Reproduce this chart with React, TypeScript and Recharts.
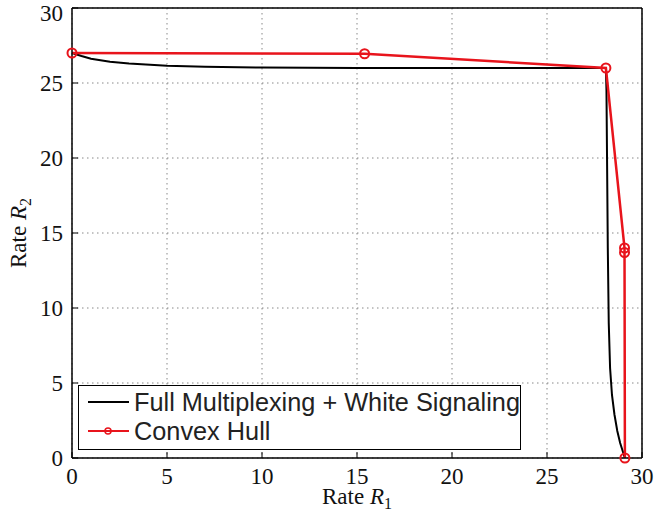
import { CartesianGrid, Line, LineChart, XAxis, YAxis } from "recharts"

const fullR1 = [0, 0.5, 1, 2, 3, 5, 7, 10, 15, 20, 25, 28.1, 28.13, 28.16, 28.2, 28.25, 28.32, 28.42, 28.55, 28.7, 28.85, 29.0, 29.1]
const fullR2 = [27, 26.8, 26.62, 26.42, 26.3, 26.15, 26.08, 26.03, 26.0, 26.0, 26.0, 26.0, 24.5, 20, 14, 9, 6, 4.2, 2.9, 1.8, 1.0, 0.4, 0]

const hullR1 = [0, 15.4, 28.1, 29.08, 29.08, 29.1]
const hullR2 = [27, 26.95, 26, 14.0, 13.7, 0]

const ticks = [0, 5, 10, 15, 20, 25, 30]

const fullData = fullR1.map((x, i) => ({ x, y: fullR2[i] }))
const hullData = hullR1.map((x, i) => ({ x, y: hullR2[i] }))

const serif = "'Liberation Serif', 'DejaVu Serif', serif"
const sans = "'Liberation Sans', Arial, sans-serif"

function LegendBox() {
  return (
    <div
      style={{
        position: "absolute",
        left: 78,
        top: 385,
        border: "1px solid #000",
        background: "#fff",
        width: 443,
        height: 65,
        fontFamily: sans,
        fontSize: 25.3,
        lineHeight: "29px",
        color: "#222",
        boxSizing: "border-box",
        paddingLeft: 8,
        paddingTop: 2,
        whiteSpace: "nowrap",
        overflow: "hidden",
      }}
    >
      <div>
        <svg width={47} height={20} style={{ verticalAlign: "-1px" }}>
          <line x1={1} x2={42} y1={10} y2={10} stroke="#000" strokeWidth={2} />
        </svg>
        Full Multiplexing + White Signaling
      </div>
      <div>
        <svg width={47} height={20} style={{ verticalAlign: "-1px" }}>
          <line x1={1} x2={42} y1={10} y2={10} stroke="#e8141c" strokeWidth={2} />
          <circle cx={21} cy={10} r={3} fill="none" stroke="#e8141c" strokeWidth={1.5} />
        </svg>
        Convex Hull
      </div>
    </div>
  )
}

function AxisLabels() {
  return (
    <svg width={655} height={516} style={{ position: "absolute", left: 0, top: 0, pointerEvents: "none" }}>
      <text x={357} y={504} textAnchor="middle" fontFamily={serif} fontSize={23} fill="#111">
        Rate <tspan fontStyle="italic">R</tspan>
        <tspan fontSize={16} dy={5}>1</tspan>
      </text>
      <text
        x={26}
        y={233}
        textAnchor="middle"
        transform="rotate(-90 26 233)"
        fontFamily={serif}
        fontSize={23}
        fill="#111"
      >
        Rate <tspan fontStyle="italic">R</tspan>
        <tspan fontSize={16} dy={5}>2</tspan>
      </text>
    </svg>
  )
}

export default function App() {
  return (
    <div style={{ position: "relative", width: 655, height: 516 }}>
      <style>{`body{margin:0}`}</style>
      <LineChart width={655} height={516} margin={{ top: 7, right: 12, bottom: 0, left: 0 }}>
        <CartesianGrid xAxisId="b" yAxisId="l" stroke="#888" strokeDasharray="1.5 3.5" strokeWidth={1} />
        <XAxis
          xAxisId="b"
          dataKey="x"
          type="number"
          domain={[0, 30]}
          ticks={ticks}
          height={58}
          axisLine={{ stroke: "#000", strokeWidth: 1.5 }}
          tickLine={{ stroke: "#000" }}
          tickSize={-6}
          tickMargin={16}
          tick={{ fill: "#111", fontFamily: serif, fontSize: 23 }}
        />
        <XAxis
          xAxisId="t"
          orientation="top"
          dataKey="x"
          type="number"
          domain={[0, 30]}
          ticks={ticks}
          height={1}
          axisLine={{ stroke: "#000", strokeWidth: 1.5 }}
          tickLine={{ stroke: "#000" }}
          tickSize={-6}
          tickFormatter={() => ""}
        />
        <YAxis
          yAxisId="l"
          type="number"
          domain={[0, 30]}
          ticks={ticks}
          width={72}
          axisLine={{ stroke: "#000", strokeWidth: 1.5 }}
          tickLine={{ stroke: "#000" }}
          tickSize={-6}
          tickMargin={15}
          tick={{ fill: "#111", fontFamily: serif, fontSize: 23 }}
        />
        <YAxis
          yAxisId="r"
          orientation="right"
          type="number"
          domain={[0, 30]}
          ticks={ticks}
          width={1}
          axisLine={{ stroke: "#000", strokeWidth: 1.5 }}
          tickLine={{ stroke: "#000" }}
          tickSize={-6}
          tickFormatter={() => ""}
        />
        <Line
          xAxisId="b"
          yAxisId="l"
          data={fullData}
          dataKey="y"
          type="linear"
          stroke="#000"
          strokeWidth={2}
          dot={false}
          isAnimationActive={false}
        />
        <Line
          xAxisId="b"
          yAxisId="l"
          data={hullData}
          dataKey="y"
          type="linear"
          stroke="#e8141c"
          strokeWidth={2.5}
          dot={{ r: 4.5, fill: "none", stroke: "#e8141c", strokeWidth: 2 }}
          isAnimationActive={false}
        />
      </LineChart>
      <AxisLabels />
      <LegendBox />
    </div>
  )
}
